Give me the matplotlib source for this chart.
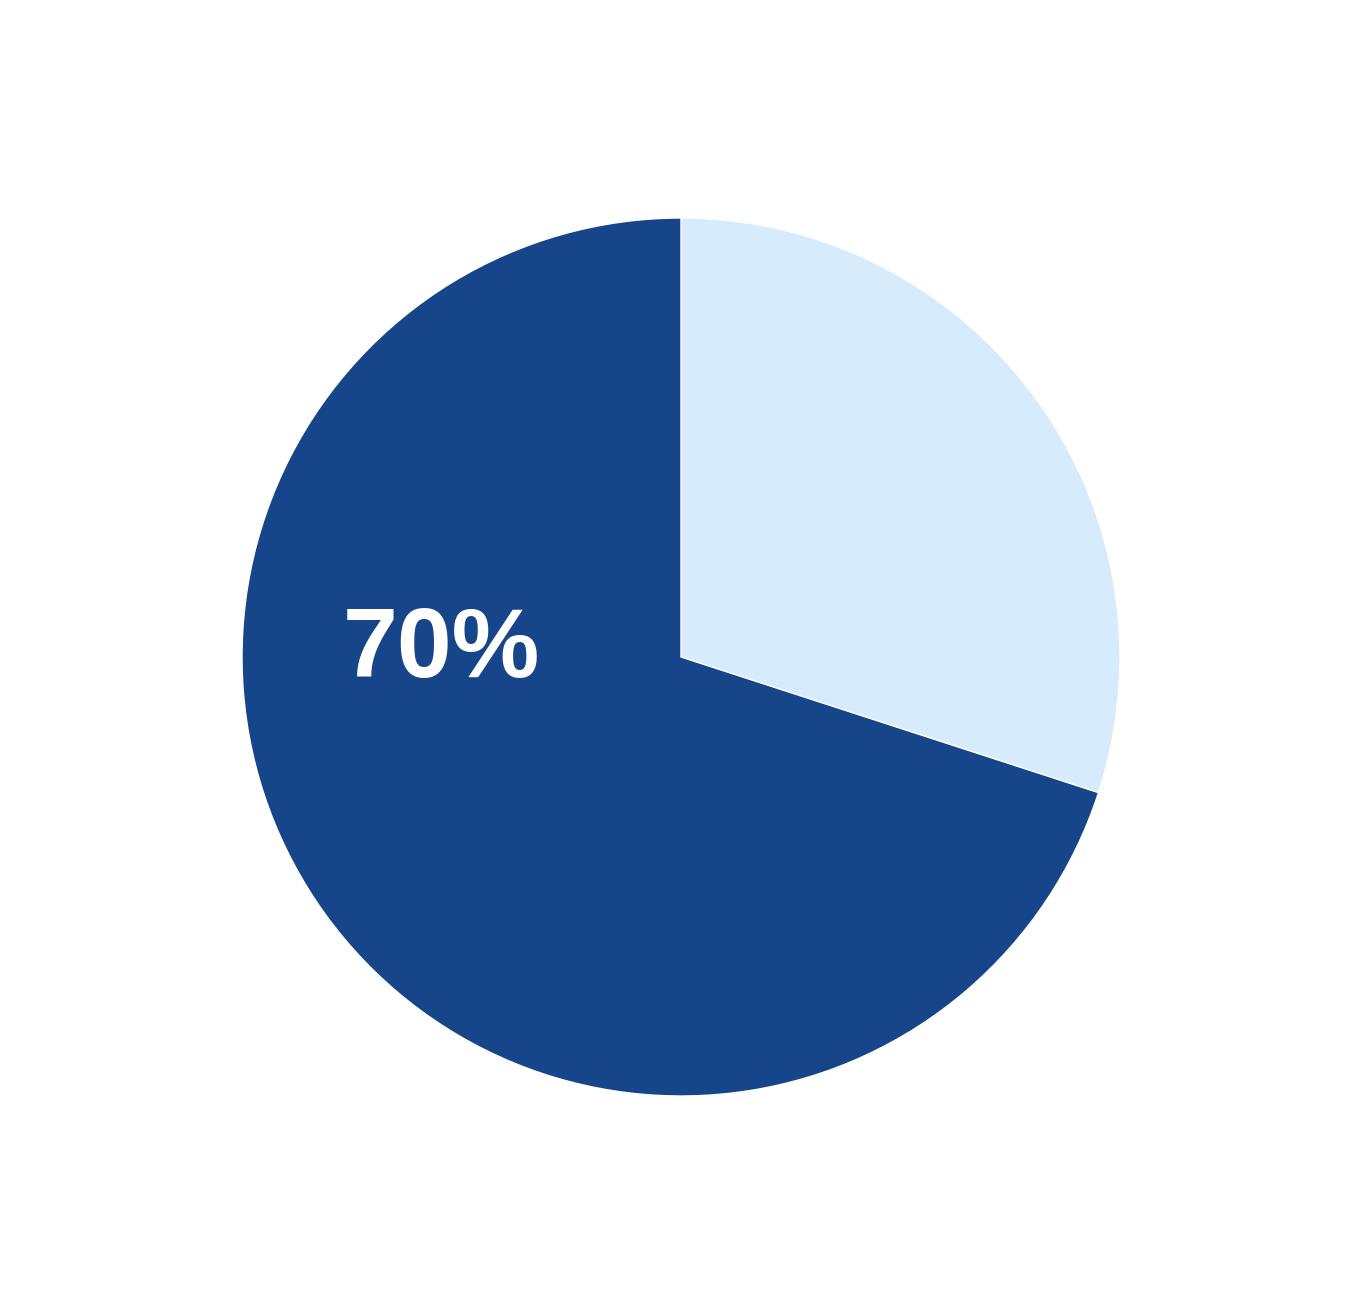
import matplotlib
matplotlib.use("Agg")
from matplotlib import pyplot as plt

# slice shares, dark (labelled) first going clockwise from the light one
labels = ["Yes", "No"]
values = [30, 70]
colors = ["#d6ecfd", "#174589"]
label_text = "70%"

W, H = 1362, 1314
fig = plt.figure(figsize=(W / 100, H / 100), dpi=100)

# pie centre at (681, 657) px from top, radius ~439 px
cx, cy, r = 681, 657, 439
ax = fig.add_axes([(cx - r) / W, (H - cy - r) / H, 2 * r / W, 2 * r / H])

ax.pie(values, colors=colors, startangle=90, counterclock=False,
       wedgeprops=dict(edgecolor="white", linewidth=1))
ax.set_xlim(-1, 1)
ax.set_ylim(-1, 1)
ax.set_aspect("equal")
ax.axis("off")

ax.text(-0.545, 0.012, label_text, color="white", fontsize=71,
        fontweight="bold", family=["Liberation Sans", "DejaVu Sans"],
        ha="center", va="center")

fig.savefig("out.png", dpi=100, facecolor="white")
